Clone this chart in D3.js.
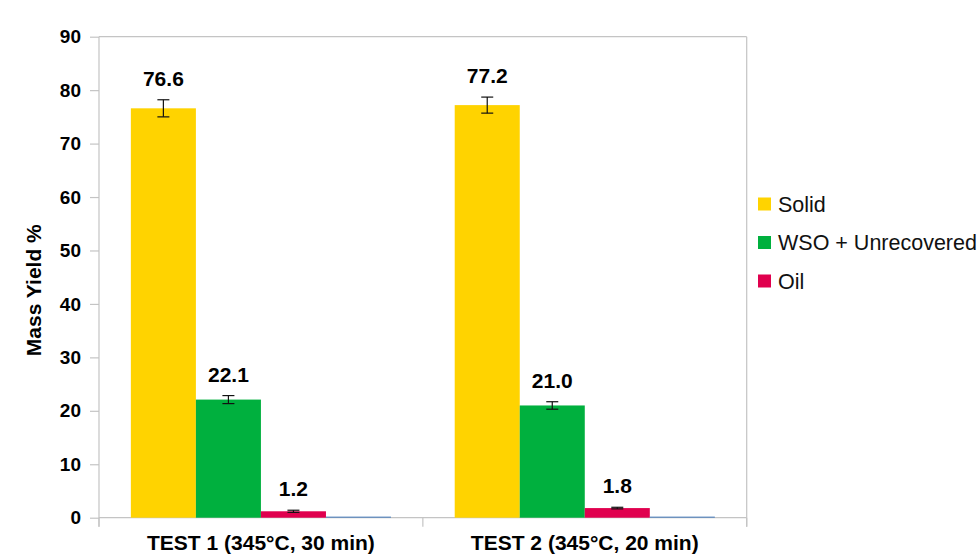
<!DOCTYPE html>
<html>
<head>
<meta charset="utf-8">
<script src="https://cdn.jsdelivr.net/npm/d3@7/dist/d3.min.js"></script>
<style>
  html, body { margin: 0; padding: 0; background: #ffffff; }
  svg { display: block; font-family: "Liberation Sans", Arial, sans-serif; }
</style>
</head>
<body>
<svg id="chart" width="979" height="557"></svg>
<script>
// ---- data ----
const categories = ["TEST 1 (345°C, 30 min)", "TEST 2 (345°C, 20 min)"];
const seriesNames = ["Solid", "WSO + Unrecovered", "Oil", "Other"];
const legendNames = ["Solid", "WSO + Unrecovered", "Oil"];
const solidValues = [76.6, 77.2];
const wsoValues = [22.1, 21.0];
const oilValues = [1.2, 1.8];
const otherValues = [0.2, 0.2];
const solidErrors = [1.6, 1.5];
const wsoErrors = [0.75, 0.7];
const oilErrors = [0.2, 0.15];
const otherErrors = [0, 0];
const yTicks = [0, 10, 20, 30, 40, 50, 60, 70, 80, 90];
const yTitle = "Mass Yield %";

const colors = { "Solid": "#FFD300", "WSO + Unrecovered": "#00B03E", "Oil": "#E0004E", "Other": "#4A7EBB" };
const labelled = { "Solid": true, "WSO + Unrecovered": true, "Oil": true, "Other": false };

const valuesBySeries = [solidValues, wsoValues, oilValues, otherValues];
const errorsBySeries = [solidErrors, wsoErrors, oilErrors, otherErrors];

const rows = [];
categories.forEach((c, ci) => {
  seriesNames.forEach((s, si) => {
    rows.push({ cat: c, series: s, value: valuesBySeries[si][ci], err: errorsBySeries[si][ci] });
  });
});

// ---- layout ----
const svg = d3.select("#chart");
const plot = { left: 99, right: 746.7, top: 36.7, bottom: 517.7 };
const axisColor = "#c4c4c4";

const x0 = d3.scaleBand().domain(categories).range([plot.left, plot.right]).padding(0);
const x1 = d3.scaleBand().domain(seriesNames).range([0, x0.bandwidth()]).paddingInner(0).paddingOuter(0.49);
const y = d3.scaleLinear().domain([0, 90]).range([plot.bottom, plot.top]);

// plot border (top and right)
svg.append("line").attr("x1", plot.left).attr("x2", plot.right).attr("y1", y(90)).attr("y2", y(90))
  .attr("stroke", axisColor).attr("stroke-width", 1.2);
svg.append("line").attr("x1", plot.right).attr("x2", plot.right).attr("y1", y(90)).attr("y2", y(0) + 9)
  .attr("stroke", axisColor).attr("stroke-width", 1.2);

// y axis
const yAxis = svg.append("g").attr("transform", `translate(${plot.left},0)`)
  .call(d3.axisLeft(y).tickValues(yTicks).tickSize(9).tickPadding(9).tickSizeOuter(0));
yAxis.select(".domain").remove();
yAxis.selectAll(".tick line").attr("stroke", axisColor).attr("stroke-width", 1.2);
yAxis.selectAll(".tick text").attr("fill", "#000").style("font-size", "19px").style("font-weight", "bold")
  .style("font-family", "'Liberation Sans', Arial, sans-serif");
svg.append("line").attr("x1", plot.left).attr("x2", plot.left).attr("y1", y(90)).attr("y2", y(0) + 9)
  .attr("stroke", axisColor).attr("stroke-width", 1.2);

// x axis baseline and boundary ticks
svg.append("line").attr("x1", plot.left).attr("x2", plot.right).attr("y1", y(0)).attr("y2", y(0))
  .attr("stroke", axisColor).attr("stroke-width", 1.2);
const boundaries = categories.map(c => x0(c)).concat([x0(categories[categories.length - 1]) + x0.bandwidth()]);
svg.selectAll(".xb").data(boundaries).enter().append("line")
  .attr("x1", d => d).attr("x2", d => d).attr("y1", y(0)).attr("y2", y(0) + 9)
  .attr("stroke", axisColor).attr("stroke-width", 1.2);

const xAxis = svg.append("g").attr("transform", `translate(0,${y(0)})`)
  .call(d3.axisBottom(x0).tickSize(0).tickPadding(0));
xAxis.select(".domain").remove();
xAxis.selectAll(".tick text").attr("fill", "#000").attr("dy", null).attr("y", 32)
  .style("font-size", "21px").style("font-weight", "bold")
  .style("font-family", "'Liberation Sans', Arial, sans-serif");

// bars
svg.selectAll(".bar").data(rows).enter().append("rect")
  .attr("x", d => x0(d.cat) + x1(d.series))
  .attr("width", x1.bandwidth())
  .attr("y", d => y(d.value))
  .attr("height", d => y(0) - y(d.value))
  .attr("fill", d => colors[d.series]);

// error bars
const errRows = rows.filter(d => d.err > 0);
const eg = svg.selectAll(".err").data(errRows).enter().append("g");
const cx = d => x0(d.cat) + x1(d.series) + x1.bandwidth() / 2;
eg.append("line").attr("x1", cx).attr("x2", cx)
  .attr("y1", d => y(d.value + d.err)).attr("y2", d => y(d.value - d.err))
  .attr("stroke", "#111").attr("stroke-width", 1.2);
eg.append("line").attr("x1", d => cx(d) - 6).attr("x2", d => cx(d) + 6)
  .attr("y1", d => y(d.value + d.err)).attr("y2", d => y(d.value + d.err))
  .attr("stroke", "#111").attr("stroke-width", 1.2);
eg.append("line").attr("x1", d => cx(d) - 6).attr("x2", d => cx(d) + 6)
  .attr("y1", d => y(d.value - d.err)).attr("y2", d => y(d.value - d.err))
  .attr("stroke", "#111").attr("stroke-width", 1.2);

// value labels
svg.selectAll(".vlab").data(rows.filter(d => labelled[d.series])).enter().append("text")
  .attr("x", cx)
  .attr("y", d => y(d.value + d.err) - 14)
  .attr("text-anchor", "middle")
  .style("font-size", "21px").style("font-weight", "bold").attr("fill", "#000")
  .text(d => d.value.toFixed(1));

// y title
svg.append("text")
  .attr("transform", `translate(41,${(plot.top + plot.bottom) / 2 + 13}) rotate(-90)`)
  .attr("text-anchor", "middle")
  .style("font-size", "21px").style("font-weight", "bold").attr("fill", "#000")
  .text(yTitle);

// legend
const legendY = d3.scalePoint().domain(legendNames).range([204, 281]);
const lg = svg.selectAll(".leg").data(legendNames).enter().append("g")
  .attr("transform", d => `translate(758,${legendY(d)})`);
lg.append("rect").attr("x", 0).attr("y", -6.5).attr("width", 13).attr("height", 13)
  .attr("fill", d => colors[d]);
lg.append("text").attr("x", 20).attr("y", 7.5)
  .style("font-size", "21.5px").attr("fill", "#111")
  .text(d => d);
</script>
</body>
</html>
